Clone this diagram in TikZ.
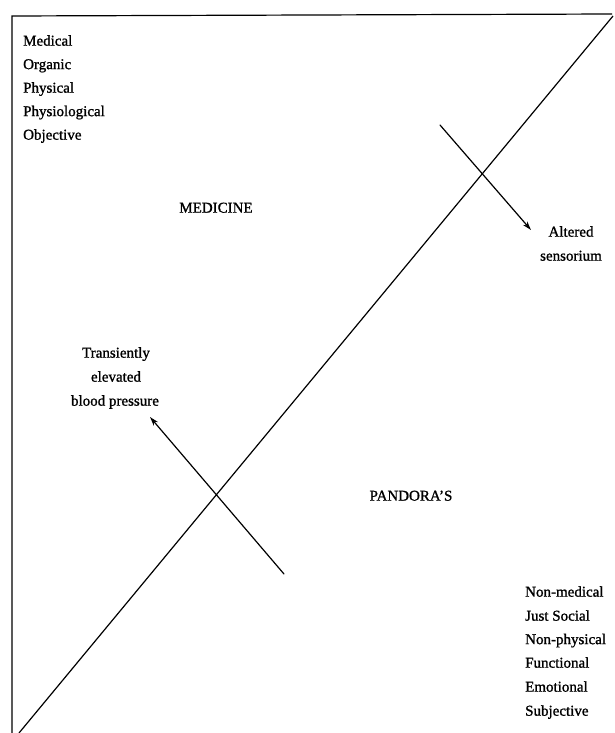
\documentclass[tikz,border=0pt]{standalone}
\usepackage{fontspec}
\setmainfont[FakeBold=1.2]{Liberation Serif}
\usetikzlibrary{arrows.meta}
\begin{document}
\begin{tikzpicture}[x=1pt,y=-1pt,
  lbl/.style={font=\fontsize{15}{18}\selectfont, inner sep=0pt, text height=10.5pt, text depth=3.2pt},
  lst/.style={lbl, anchor=west},
  ctr/.style={lbl, anchor=center},
  ln/.style={line width=1.2pt, line cap=round},
  arr/.style={ln, -{Stealth[length=9pt,width=5.5pt]}}]
\useasboundingbox (0,0) rectangle (614,733);
\fill[white] (0,0) rectangle (614,733);
% frame
\coordinate (tl) at (12,16);
\coordinate (tr) at (612,14);
\coordinate (bl) at (12,733);
\draw[ln, line cap=butt] (tr) -- (tl) -- (bl);
% diagonal
\coordinate (dA) at (19,733);
\coordinate (dB) at (613,16);
\draw[ln, line cap=butt] (dA) -- (dB);
% crossing arrows
\coordinate (u1) at (440,125);
\coordinate (u2) at (531,230);
\draw[arr] (u1) -- (u2);
\coordinate (l1) at (284,574);
\coordinate (l2) at (150,417);
\draw[arr] (l1) -- (l2);
% top-left list
\node[lst] (m1) at (23,42) {Medical};
\node[lst] (m2) at (23,65.5) {Organic};
\node[lst] (m3) at (23,89) {Physical};
\node[lst] (m4) at (23,112.5) {Physiological};
\node[lst] (m5) at (23,136) {Objective};
% labels
\node[ctr] (med) at (216,209) {MEDICINE};
\node[ctr] (alt1) at (571,233) {Altered};
\node[ctr] (alt2) at (571,257) {sensorium};
\node[ctr] (tr1) at (116,354) {Transiently};
\node[ctr] (tr2) at (116,378) {elevated};
\node[ctr] (tr3) at (115,402) {blood pressure};
\node[ctr] (pan) at (411,497) {PANDORA’S};
% bottom-right list
\node[lst] (n1) at (525,593) {Non-medical};
\node[lst] (n2) at (525,617) {Just Social};
\node[lst] (n3) at (525,640.5) {Non-physical};
\node[lst] (n4) at (525,664) {Functional};
\node[lst] (n5) at (525,688) {Emotional};
\node[lst] (n6) at (525,712) {Subjective};
\end{tikzpicture}
\end{document}
